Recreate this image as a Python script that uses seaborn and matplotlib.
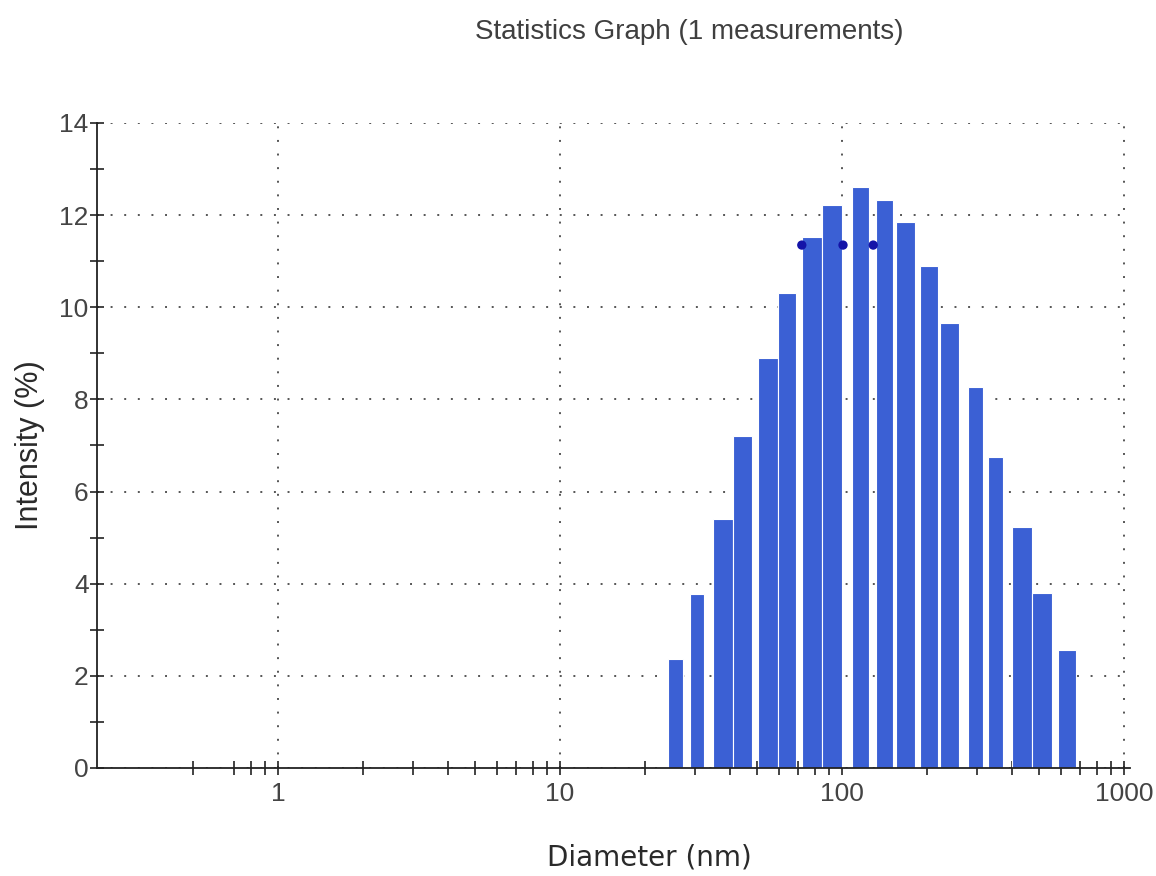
import numpy as np
import pandas as pd
import matplotlib
matplotlib.use("Agg")
import matplotlib.pyplot as plt
from matplotlib.ticker import FixedLocator, NullFormatter
import seaborn as sns

# size classes (nm) and intensity (%)
bin_lo = [24.2, 28.9, 34.9, 40.9, 50.4, 59.1, 72.1, 85.0, 108.5, 132.0, 155.4, 189.1,
          222.6, 279.8, 329.4, 400.6, 471.9, 583.4]
bin_hi = [27.3, 32.4, 40.9, 48.0, 59.1, 68.7, 85.0, 100.0, 124.7, 151.7, 181.5, 219.0,
          260.0, 316.2, 372.3, 471.9, 555.5, 675.6]
intensity = [2.37, 3.78, 5.41, 7.20, 8.89, 10.32, 11.52, 12.23, 12.60, 12.32, 11.85, 10.90,
             9.66, 8.26, 6.74, 5.22, 3.80, 2.57]

# mean / spread markers
stat_x = [72.0, 100.8, 129.0]
stat_y = [11.35, 11.35, 11.35]

x_major = [1, 10, 100, 1000]
x_minor = [0.5, 0.7, 0.8, 0.9, 2, 3, 4, 5, 6, 7, 8, 9,
           20, 30, 40, 50, 60, 70, 80, 90, 200, 300, 400, 500, 600, 700, 800, 900]
y_major = [0, 2, 4, 6, 8, 10, 12, 14]
y_minor = [1, 3, 5, 7, 9, 11, 13]

sns.set_theme(style="white")
plt.rcParams['font.family'] = ['Liberation Sans', 'DejaVu Sans']

df = pd.DataFrame({
    'lo': bin_lo,
    'hi': bin_hi,
    'intensity': intensity,
})
df['diameter'] = np.sqrt(df['lo'] * df['hi'])
# histplot works in log10 units when log_scale is on
edges = [float(e) for e in np.log10(np.unique(np.concatenate([bin_lo, bin_hi])))]

fig = plt.figure(figsize=(11.56, 8.76), dpi=100)
ax = fig.add_axes([0.0839, 0.1233, 0.8936, 0.7363])

sns.histplot(data=df, x='diameter', weights='intensity', bins=edges, log_scale=True,
             color='#3b60d4', alpha=1, edgecolor='white', linewidth=0.8, ax=ax, zorder=2)

sns.scatterplot(x=stat_x, y=stat_y, color='#1414a8', s=45, edgecolor='none', ax=ax, zorder=4)

ax.set_xlim(0.228, 1050)
ax.set_ylim(0, 14)

ax.xaxis.set_major_locator(FixedLocator(x_major))
ax.xaxis.set_minor_locator(FixedLocator(x_minor))
ax.xaxis.set_minor_formatter(NullFormatter())
ax.set_xticklabels(['1', '10', '100', '1000'])
ax.yaxis.set_major_locator(FixedLocator(y_major))
ax.yaxis.set_minor_locator(FixedLocator(y_minor))

ax.tick_params(which='both', direction='inout', length=10, width=1.2, color='#222222',
               labelsize=19, labelcolor='#444444')
ax.tick_params(axis='x', which='both', pad=5, bottom=True)
ax.tick_params(axis='y', which='both', pad=1, left=True)

ax.grid(True, which='major', color='#555555', linestyle=(0, (1, 6)), linewidth=1.4, zorder=0)
ax.set_axisbelow(True)

for side in ['top', 'right']:
    ax.spines[side].set_visible(False)
for side in ['left', 'bottom']:
    ax.spines[side].set_color('#222222')
    ax.spines[side].set_linewidth(1.3)

ax.set_xlabel('Diameter (nm)', fontsize=20, family=['DejaVu Sans'], color='#2a2a2a')
ax.xaxis.set_label_coords(0.535, -0.117)
ax.set_ylabel('Intensity (%)', fontsize=22, color='#2a2a2a', labelpad=10)

fig.text(0.596, 0.963, 'Statistics Graph (1 measurements)', ha='center', va='center',
         fontsize=20, color='#3f3f3f')

fig.savefig('out.png', dpi=100)
